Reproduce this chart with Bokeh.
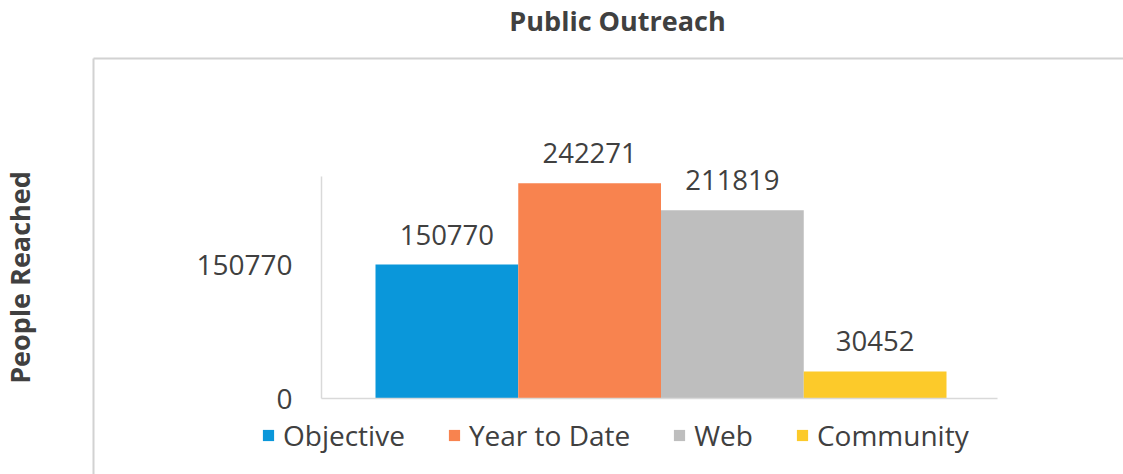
import math
from bokeh.plotting import figure
from bokeh.models import (Range1d, FixedTicker, NumeralTickFormatter, LinearAxis,
                          ColumnDataSource, LabelSet, Label)
from bokeh.embed import file_html
from bokeh.resources import INLINE
from bokeh.core.properties import value

# ---- data ----
categories = ["Objective", "Year to Date", "Web", "Community"]
people_reached = [150770, 242271, 211819, 30452]
bar_colors = ["#0A97DA", "#F8834F", "#BEBEBE", "#FCCA2A"]
y_ticks = [0, 150770]
y_axis_max = 250000
title_text = "Public Outreach"
y_label_text = "People Reached"

# ---- layout constants (canvas px) ----
W, H = 1123, 474
BOX_L, BOX_T = 93, 58            # chart-area box
AX_L, AX_R = 321, 997            # plot area horizontal extent
BAR_L, BAR_R = 375, 946          # first bar left edge, last bar right edge
ZERO_Y = 398                     # pixel of value 0
PX_PER_UNIT = 134.0 / 150770.0   # vertical scale
TXT = "#404040"
FONT = "Open Sans"
BOXC = "#D2D2D2"

n = len(categories)
bar_px = (BAR_R - BAR_L) / n
x_idx = list(range(n))

def x_of(px):
    return -0.5 + (px - BAR_L) / bar_px

def y_of(px):
    return (ZERO_Y - px) / PX_PER_UNIT

x_start, x_end = x_of(0), x_of(W)
y_start, y_end = y_of(H), y_of(0)

src = ColumnDataSource(dict(x=x_idx, cat=categories, val=people_reached,
                            color=bar_colors, lbl=[str(v) for v in people_reached]))

p = figure(width=W, height=H,
           x_range=Range1d(x_start, x_end), y_range=Range1d(y_start, y_end),
           output_backend="svg", toolbar_location=None,
           min_border_left=0, min_border_right=0,
           min_border_top=0, min_border_bottom=0)
xb = p.xaxis[0]
ybox = p.yaxis[0]
p.background_fill_color = "white"
p.border_fill_color = "white"
p.outline_line_color = None
p.grid.visible = False

def plain(ax):
    ax.major_tick_line_color = None
    ax.minor_tick_line_color = None
    ax.major_tick_out = 0
    ax.major_tick_in = 0

# left edge of the chart box
ybox.ticker = FixedTicker(ticks=[])
ybox.fixed_location = x_of(BOX_L)
ybox.bounds = (y_start, y_of(BOX_T))
ybox.axis_line_color = BOXC
ybox.axis_line_width = 2
plain(ybox)

# category baseline
xb.ticker = FixedTicker(ticks=[])
xb.fixed_location = 0
xb.bounds = (x_of(AX_L), x_of(AX_R))
xb.axis_line_color = "#D9D9D9"
xb.axis_line_width = 1.5
plain(xb)

# top edge of the chart box
xbox = LinearAxis(ticker=FixedTicker(ticks=[]), fixed_location=y_of(BOX_T),
                  bounds=(x_of(BOX_L), x_end),
                  axis_line_color=BOXC, axis_line_width=2)
plain(xbox)
p.add_layout(xbox, "above")

# value axis
yval = LinearAxis(ticker=FixedTicker(ticks=y_ticks),
                  formatter=NumeralTickFormatter(format="0"),
                  fixed_location=x_of(AX_L), bounds=(0, y_axis_max),
                  axis_line_color="#D9D9D9", axis_line_width=1.5,
                  major_label_standoff=29,
                  major_label_text_font=FONT, major_label_text_font_size="28px",
                  major_label_text_color=TXT)
plain(yval)
p.add_layout(yval, "left")

r = p.vbar(x="x", top="val", width=1.0, fill_color="color", line_color=None,
           source=src, legend_field="cat")

labels = LabelSet(x="x", y="val", text="lbl", source=src, y_offset=20,
                  text_align="center", text_baseline="alphabetic",
                  text_font=value(FONT), text_font_size="27.5px", text_color=TXT)
p.add_layout(labels)

# chart title
p.add_layout(Label(x=617, y=20, x_units="canvas", y_units="canvas", text=title_text,
                   text_align="center", text_baseline="alphabetic",
                   text_font=FONT, text_font_size="27px", text_font_style="bold",
                   text_color=TXT))
# vertical axis title
p.add_layout(Label(x=19, y=277, x_units="canvas", y_units="canvas", text=y_label_text,
                   angle=math.pi / 2, text_align="center", text_baseline="middle",
                   text_font=FONT, text_font_size="27px", text_font_style="bold",
                   text_color=TXT))

lg = p.legend[0]
lg.orientation = "horizontal"
lg.location = (261, 20)
lg.padding = 0
lg.margin = 0
lg.spacing = 42
lg.border_line_color = None
lg.background_fill_alpha = 0
lg.glyph_width = 14
lg.glyph_height = 14
lg.label_standoff = 8
lg.label_text_font = FONT
lg.label_text_font_size = "28px"
lg.label_text_color = TXT

open("out.html", "w").write(file_html(p, INLINE))
